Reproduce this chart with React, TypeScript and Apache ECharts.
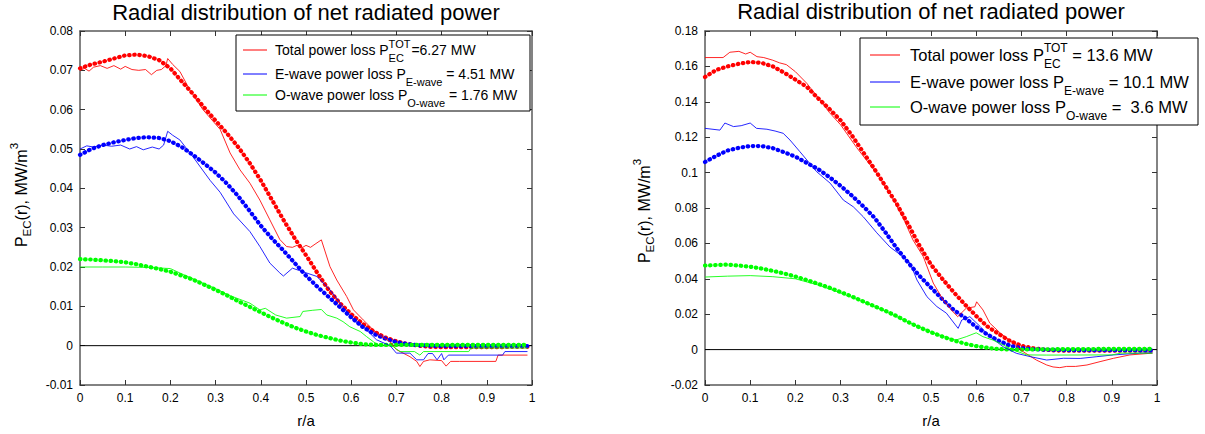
import React, { useEffect, useRef } from "react";
import * as echarts from "echarts";

// ---------- data ----------
const X_DOT = [0, 0.025, 0.05, 0.075, 0.1, 0.125, 0.15, 0.175, 0.2, 0.225, 0.25, 0.275, 0.3, 0.325, 0.35, 0.375, 0.4, 0.425, 0.45, 0.475, 0.5, 0.525, 0.55, 0.575, 0.6, 0.625, 0.65, 0.675, 0.7, 0.725, 0.75, 0.775, 0.8, 0.825, 0.85, 0.875, 0.9, 0.925, 0.95, 0.975, 0.99];

// left panel (6.27 MW case) – thick dotted profiles
const L_RED_DOT = [0.0705, 0.0715, 0.0722, 0.073, 0.0738, 0.074, 0.0736, 0.0726, 0.0705, 0.0672, 0.064, 0.0605, 0.0572, 0.054, 0.0505, 0.0465, 0.042, 0.037, 0.032, 0.0273, 0.023, 0.0185, 0.0142, 0.0108, 0.008, 0.0056, 0.0036, 0.0021, 0.0011, 0.0004, 0.0, -0.0003, -0.0004, -0.0004, -0.0004, -0.0004, -0.0004, -0.0004, -0.0003, -0.0003, -0.0003];
const L_BLUE_DOT = [0.0485, 0.05, 0.051, 0.0517, 0.0523, 0.0528, 0.053, 0.0528, 0.052, 0.0505, 0.0485, 0.0463, 0.044, 0.0412, 0.038, 0.0343, 0.0305, 0.0272, 0.0242, 0.021, 0.0178, 0.015, 0.0124, 0.0098, 0.0072, 0.0048, 0.003, 0.0018, 0.0009, 0.0004, 0.0001, 0.0, -0.0001, -0.0001, -0.0001, -0.0001, -0.0001, -0.0001, -0.0001, -0.0001, -0.0001];
const L_GREEN_DOT = [0.022, 0.0219, 0.0217, 0.0215, 0.0212, 0.0207, 0.0201, 0.0195, 0.0188, 0.0178, 0.0168, 0.0155, 0.0142, 0.0128, 0.0113, 0.0099, 0.0085, 0.0071, 0.0058, 0.0046, 0.0036, 0.0027, 0.002, 0.0013, 0.0008, 0.0004, 0.0002, 0.0002, 0.0002, 0.0002, 0.0002, 0.0002, 0.0002, 0.0002, 0.0002, 0.0002, 0.0002, 0.0002, 0.0002, 0.0002, 0.0002];

// left panel – thin (jagged) profiles, [r/a, P]
const L_RED_THIN = [[0, 0.07], [0.01, 0.0705], [0.02, 0.0698], [0.03, 0.0708], [0.045, 0.0712], [0.06, 0.0705], [0.075, 0.0712], [0.09, 0.0703], [0.1, 0.071], [0.115, 0.0702], [0.13, 0.07], [0.145, 0.0702], [0.158, 0.0689], [0.17, 0.07], [0.18, 0.0702], [0.19, 0.0712], [0.194, 0.073], [0.205, 0.0715], [0.221, 0.0697], [0.243, 0.065], [0.272, 0.06], [0.31, 0.055], [0.332, 0.049], [0.354, 0.0447], [0.376, 0.0413], [0.398, 0.037], [0.42, 0.032], [0.442, 0.027], [0.457, 0.0252], [0.47, 0.025], [0.48, 0.0255], [0.49, 0.0248], [0.5, 0.0255], [0.51, 0.025], [0.52, 0.0258], [0.534, 0.0269], [0.553, 0.0201], [0.568, 0.0167], [0.59, 0.0125], [0.605, 0.0091], [0.627, 0.0065], [0.656, 0.0032], [0.686, 0.001], [0.7, -0.001], [0.73, -0.0028], [0.745, -0.004], [0.752, -0.0053], [0.76, -0.004], [0.774, -0.0036], [0.8, -0.0038], [0.81, -0.0052], [0.82, -0.004], [0.84, -0.004], [0.92, -0.004], [0.925, -0.0024], [0.99, -0.0024]];
const L_BLUE_THIN = [[0, 0.05], [0.015, 0.0508], [0.03, 0.0505], [0.05, 0.051], [0.07, 0.0507], [0.09, 0.051], [0.11, 0.05], [0.125, 0.0506], [0.14, 0.0498], [0.16, 0.0505], [0.175, 0.05], [0.185, 0.051], [0.194, 0.0545], [0.205, 0.0535], [0.221, 0.0523], [0.25, 0.048], [0.288, 0.042], [0.31, 0.039], [0.34, 0.0335], [0.376, 0.029], [0.398, 0.0252], [0.42, 0.021], [0.442, 0.0185], [0.45, 0.0177], [0.47, 0.0197], [0.493, 0.0188], [0.524, 0.0176], [0.553, 0.0142], [0.582, 0.0099], [0.605, 0.0065], [0.627, 0.0048], [0.656, 0.0015], [0.686, 0.0], [0.7, -0.0019], [0.73, -0.0019], [0.745, -0.0036], [0.76, -0.0036], [0.77, -0.002], [0.78, -0.002], [0.79, -0.0036], [0.8, -0.002], [0.805, -0.0036], [0.815, -0.0024], [0.935, -0.0024], [0.94, -0.0015], [0.99, -0.0015]];
const L_GREEN_THIN = [[0, 0.02], [0.05, 0.02], [0.1, 0.02], [0.15, 0.0199], [0.2, 0.0196], [0.23, 0.018], [0.26, 0.0165], [0.3, 0.0145], [0.33, 0.0128], [0.36, 0.0115], [0.376, 0.0108], [0.398, 0.0091], [0.41, 0.0095], [0.433, 0.0078], [0.457, 0.007], [0.487, 0.0074], [0.493, 0.0087], [0.515, 0.009], [0.534, 0.0092], [0.546, 0.0078], [0.568, 0.007], [0.582, 0.0061], [0.597, 0.0048], [0.62, 0.0036], [0.634, 0.0023], [0.649, 0.001], [0.66, 0.0002], [0.69, 0.0], [0.708, -0.0015], [0.74, -0.0015], [0.752, -0.0024], [0.76, -0.0015], [0.86, -0.0015], [0.865, -0.0006], [0.99, -0.0006]];

// right panel (13.6 MW case) – thick dotted profiles
const R_RED_DOT = [0.154, 0.158, 0.16, 0.1615, 0.1625, 0.162, 0.16, 0.1565, 0.1525, 0.1485, 0.142, 0.136, 0.1295, 0.121, 0.1115, 0.102, 0.092, 0.082, 0.0705, 0.0585, 0.048, 0.04, 0.0325, 0.0255, 0.019, 0.013, 0.0088, 0.0048, 0.0022, 0.0008, 0.0, -0.0005, -0.0006, -0.0006, -0.0006, -0.0006, -0.0006, -0.0006, -0.0006, -0.0006, -0.0006];
const R_BLUE_DOT = [0.106, 0.1095, 0.1125, 0.114, 0.115, 0.115, 0.1138, 0.1115, 0.109, 0.1055, 0.102, 0.0975, 0.0925, 0.087, 0.081, 0.0745, 0.066, 0.057, 0.049, 0.0415, 0.035, 0.0285, 0.0225, 0.018, 0.0128, 0.0085, 0.005, 0.0022, 0.0008, 0.0002, 0.0, -0.0002, -0.0003, -0.0003, -0.0003, -0.0003, -0.0003, -0.0003, -0.0003, -0.0003, -0.0003];
const R_GREEN_DOT = [0.0475, 0.0478, 0.048, 0.0475, 0.0468, 0.0458, 0.0445, 0.043, 0.0413, 0.0393, 0.0372, 0.035, 0.0325, 0.03, 0.0272, 0.0245, 0.0218, 0.0188, 0.0155, 0.0125, 0.0098, 0.0074, 0.0052, 0.0034, 0.002, 0.001, 0.0003, 0.0, 0.0, 0.0001, 0.0002, 0.0002, 0.0003, 0.0003, 0.0003, 0.0004, 0.0004, 0.0004, 0.0004, 0.0004, 0.0004];

// right panel – thin (jagged) profiles
const R_RED_THIN = [[0, 0.165], [0.04, 0.165], [0.055, 0.168], [0.075, 0.1685], [0.09, 0.167], [0.1, 0.168], [0.115, 0.1655], [0.13, 0.165], [0.15, 0.1635], [0.165, 0.162], [0.18, 0.161], [0.2, 0.157], [0.225, 0.1505], [0.25, 0.1425], [0.275, 0.134], [0.3, 0.127], [0.336, 0.114], [0.38, 0.0995], [0.41, 0.088], [0.44, 0.0735], [0.46, 0.062], [0.483, 0.0525], [0.505, 0.0376], [0.527, 0.028], [0.545, 0.0224], [0.559, 0.0186], [0.578, 0.0234], [0.597, 0.0242], [0.601, 0.027], [0.615, 0.0224], [0.63, 0.015], [0.653, 0.0094], [0.682, 0.0037], [0.704, -0.0012], [0.733, -0.0059], [0.756, -0.0087], [0.77, -0.0098], [0.785, -0.0102], [0.8, -0.0095], [0.82, -0.0095], [0.845, -0.0087], [0.874, -0.0068], [0.904, -0.0049], [0.94, -0.003], [0.99, -0.002]];
const R_BLUE_THIN = [[0, 0.125], [0.033, 0.124], [0.044, 0.128], [0.063, 0.126], [0.08, 0.1265], [0.1, 0.128], [0.114, 0.125], [0.137, 0.1245], [0.155, 0.1235], [0.173, 0.1222], [0.188, 0.1184], [0.21, 0.1118], [0.247, 0.1005], [0.277, 0.094], [0.306, 0.0845], [0.328, 0.0807], [0.35, 0.0751], [0.38, 0.066], [0.409, 0.058], [0.43, 0.054], [0.454, 0.0488], [0.469, 0.0393], [0.491, 0.0299], [0.513, 0.0243], [0.534, 0.0206], [0.56, 0.012], [0.568, 0.0167], [0.586, 0.0186], [0.609, 0.013], [0.63, 0.0073], [0.66, 0.0016], [0.689, -0.0021], [0.72, -0.004], [0.756, -0.0059], [0.793, -0.0049], [0.83, -0.005], [0.867, -0.004], [0.904, -0.003], [0.962, -0.002], [0.99, -0.0018]];
const R_GREEN_THIN = [[0, 0.041], [0.05, 0.0415], [0.1, 0.0418], [0.15, 0.0412], [0.2, 0.04], [0.25, 0.0365], [0.3, 0.032], [0.35, 0.027], [0.4, 0.0215], [0.45, 0.0155], [0.5, 0.0098], [0.53, 0.0072], [0.555, 0.0054], [0.578, 0.0073], [0.6, 0.0095], [0.615, 0.0073], [0.637, 0.0054], [0.66, 0.0026], [0.682, -0.0002], [0.712, -0.003], [0.756, -0.0031], [0.9, -0.003], [0.92, -0.002], [0.99, -0.002]];

// axes
const X_RANGE = [0, 1, 0.1];
const L_Y_RANGE = [-0.01, 0.08, 0.01];
const R_Y_RANGE = [-0.02, 0.18, 0.02];

// texts
const TITLE = "Radial distribution of net radiated power";
const X_NAME = "r/a";
const LEFT_LEGEND = [
  { color: "#ff0000", pre: "Total power loss P", sup: "TOT", sub: "EC", post: "=6.27 MW", space: false },
  { color: "#0000ff", pre: "E-wave power loss P", sup: "", sub: "E-wave", post: "= 4.51 MW", space: true },
  { color: "#00ff00", pre: "O-wave power loss P", sup: "", sub: "O-wave", post: "= 1.76 MW", space: true },
];
const RIGHT_LEGEND = [
  { color: "#ff0000", pre: "Total power loss P", sup: "TOT", sub: "EC", post: "= 13.6 MW", space: true },
  { color: "#0000ff", pre: "E-wave power loss P", sup: "", sub: "E-wave", post: "= 10.1 MW", space: true },
  { color: "#00ff00", pre: "O-wave power loss P", sup: "", sub: "O-wave", post: "=\u00a0 3.6 MW", space: true },
];

const FONT = '"Liberation Sans", Arial, sans-serif';

let measureCtx: CanvasRenderingContext2D | null = null;
function tw(text: string, size: number): number {
  if (!measureCtx) measureCtx = document.createElement("canvas").getContext("2d");
  measureCtx!.font = `${size}px "Liberation Sans"`;
  return measureCtx!.measureText(text).width;
}

function txt(x: number, y: number, text: string, size: number, extra: any = {}) {
  return {
    type: "text",
    x,
    y,
    z: 60,
    silent: true,
    style: { text, fontSize: size, fontFamily: FONT, fill: "#000", align: "left", verticalAlign: "middle", ...extra },
  };
}

function legendBox(cfg: any) {
  const els: any[] = [];
  els.push({
    type: "rect",
    z: 50,
    silent: true,
    shape: { x: cfg.x, y: cfg.y, width: cfg.w, height: cfg.h },
    style: { fill: "#fff", stroke: "#000", lineWidth: 1 },
  });
  cfg.items.forEach((it: any, i: number) => {
    const cy = cfg.rows[i];
    els.push({
      type: "line",
      z: 60,
      silent: true,
      shape: { x1: cfg.lx1, y1: cy, x2: cfg.lx2, y2: cy },
      style: { stroke: it.color, lineWidth: 1 },
    });
    let x = cfg.tx;
    els.push(txt(x, cy, it.pre, cfg.fs));
    x += tw(it.pre, cfg.fs);
    let sw = tw(it.sub, cfg.ss);
    els.push(txt(x, cy + cfg.subDy, it.sub, cfg.ss));
    if (it.sup) {
      els.push(txt(x, cy + cfg.supDy, it.sup, cfg.ss));
      sw = Math.max(sw, tw(it.sup, cfg.ss));
    }
    x += sw + (it.space ? tw(" ", cfg.fs) : 1);
    els.push(txt(x, cy, it.post, cfg.fs));
  });
  return els;
}

function yLabel(cx: number, cy: number, fs: number, ss: number) {
  const parts = [
    { t: "P", s: fs, dy: 0 },
    { t: "EC", s: ss, dy: 6 },
    { t: "(r), MW/m", s: fs, dy: 0 },
    { t: "3", s: ss, dy: -7 },
  ];
  const total = parts.reduce((a, p) => a + tw(p.t, p.s), 0);
  let x = -total / 2;
  const children: any[] = [];
  parts.forEach((p) => {
    children.push(txt(x, p.dy, p.t, p.s));
    x += tw(p.t, p.s);
  });
  return { type: "group", x: cx, y: cy, rotation: Math.PI / 2, z: 60, children };
}

function axesFor(grid: number, yr: number[]) {
  const line = { show: true, onZero: false, lineStyle: { color: "#5a5a5a", width: 1.5 } };
  const tick = { show: true, inside: true, length: 5, lineStyle: { color: "#333", width: 1 } };
  const label = { color: "#000", fontSize: 12, fontFamily: FONT };
  const xBase = { type: "value", gridIndex: grid, min: X_RANGE[0], max: X_RANGE[1], interval: X_RANGE[2], splitLine: { show: false }, axisLine: line, axisTick: tick };
  const yBase = { type: "value", gridIndex: grid, min: yr[0], max: yr[1], interval: yr[2], splitLine: { show: false }, axisLine: line, axisTick: tick };
  return {
    x: [
      { ...xBase, position: "bottom", axisLabel: { ...label, margin: 7 } },
      { ...xBase, position: "top", axisLabel: { show: false } },
    ],
    y: [
      { ...yBase, position: "left", axisLabel: { ...label, margin: 7 } },
      { ...yBase, position: "right", axisLabel: { show: false } },
    ],
  };
}

function dotted(xs: number[], ys: number[], color: string, ax: number) {
  return {
    type: "line",
    xAxisIndex: ax,
    yAxisIndex: ax,
    data: xs.map((x, i) => [x, ys[i]]),
    symbol: "none",
    silent: true,
    z: 3,
    lineStyle: { color, width: 4.2, type: [0.5, 4.6], cap: "round" },
  };
}
function thin(pts: number[][], color: string, ax: number) {
  return {
    type: "line",
    xAxisIndex: ax,
    yAxisIndex: ax,
    data: pts,
    symbol: "none",
    silent: true,
    z: 4,
    lineStyle: { color, width: 1, opacity: 0.85 },
  };
}
function zero(ax: number) {
  return {
    type: "line",
    xAxisIndex: ax,
    yAxisIndex: ax,
    data: [[0, 0], [1, 0]],
    symbol: "none",
    silent: true,
    z: 2,
    lineStyle: { color: "#000", width: 1 },
  };
}

export default function App() {
  const ref = useRef<HTMLDivElement>(null);
  useEffect(() => {
    if (!ref.current) return;
    const chart = echarts.init(ref.current, undefined, { renderer: "svg" });
    const a = axesFor(0, L_Y_RANGE);
    const b = axesFor(1, R_Y_RANGE);
    const graphic: any[] = [
      txt(306, 12, TITLE, 22, { align: "center" }),
      txt(931, 11, TITLE, 22, { align: "center" }),
      txt(306, 420, X_NAME, 15, { align: "center" }),
      txt(931, 420, X_NAME, 15, { align: "center" }),
      yLabel(21, 195, 16, 11.5),
      yLabel(644, 211, 16, 11.5),
      ...legendBox({ x: 236, y: 35, w: 294, h: 76, lx1: 243, lx2: 267, tx: 275, fs: 14, ss: 11, rows: [50, 74, 95], subDy: 8, supDy: -6, items: LEFT_LEGEND }),
      ...legendBox({ x: 860, y: 38, w: 338, h: 87, lx1: 870, lx2: 900, tx: 910, fs: 16.5, ss: 12, rows: [55, 82, 107], subDy: 9, supDy: -7.5, items: RIGHT_LEGEND }),
    ];
    chart.setOption({
      animation: false,
      backgroundColor: "#fff",
      grid: [
        { left: 80, top: 31, width: 452, height: 354 },
        { left: 705, top: 31, width: 452, height: 354 },
      ],
      xAxis: [...a.x, ...b.x],
      yAxis: [...a.y, ...b.y],
      series: [
        zero(0),
        dotted(X_DOT, L_RED_DOT, "#ff0000", 0),
        dotted(X_DOT, L_BLUE_DOT, "#0000ff", 0),
        dotted(X_DOT, L_GREEN_DOT, "#00ff00", 0),
        thin(L_RED_THIN, "#ff0000", 0),
        thin(L_BLUE_THIN, "#0000ff", 0),
        thin(L_GREEN_THIN, "#00ff00", 0),
        zero(2),
        dotted(X_DOT, R_RED_DOT, "#ff0000", 2),
        dotted(X_DOT, R_BLUE_DOT, "#0000ff", 2),
        dotted(X_DOT, R_GREEN_DOT, "#00ff00", 2),
        thin(R_RED_THIN, "#ff0000", 2),
        thin(R_BLUE_THIN, "#0000ff", 2),
        thin(R_GREEN_THIN, "#00ff00", 2),
      ],
      graphic,
    });
    return () => chart.dispose();
  }, []);
  return <div ref={ref} style={{ position: "fixed", left: 0, top: 0, width: 1205, height: 434 }} />;
}
